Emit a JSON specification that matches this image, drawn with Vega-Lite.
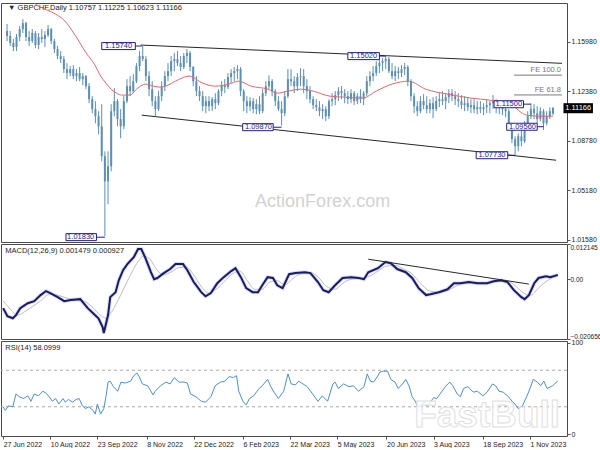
{
"$schema": "https://vega.github.io/schema/vega-lite/v6.json",
"padding": {"top": 2, "left": -6, "right": 0, "bottom": 0},
"background": "white",
"spacing": 2,
"bounds": "flush",
"config": {
 "view": {"stroke": "#4a4a4a", "strokeWidth": 1},
 "axis": {"labelFont": "Liberation Sans", "labelFontSize": 7, "labelColor": "#222222", "tickColor": "#555555", "domain": false, "grid": false, "tickSize": 3, "labelPadding": 1},
 "text": {"font": "Liberation Sans"}
},
"datasets": {
 "ohlc": [
{"d":"2022-06-26","o":1.1676,"h":1.1727,"l":1.1603,"c":1.1640},
{"d":"2022-06-29","o":1.1640,"h":1.1676,"l":1.1567,"c":1.1589},
{"d":"2022-07-02","o":1.1589,"h":1.1618,"l":1.1530,"c":1.1559},
{"d":"2022-07-05","o":1.1559,"h":1.1654,"l":1.1530,"c":1.1632},
{"d":"2022-07-08","o":1.1632,"h":1.1712,"l":1.1603,"c":1.1690},
{"d":"2022-07-11","o":1.1690,"h":1.1763,"l":1.1661,"c":1.1734},
{"d":"2022-07-14","o":1.1734,"h":1.1742,"l":1.1603,"c":1.1632},
{"d":"2022-07-17","o":1.1632,"h":1.1676,"l":1.1567,"c":1.1603},
{"d":"2022-07-20","o":1.1603,"h":1.1690,"l":1.1589,"c":1.1661},
{"d":"2022-07-23","o":1.1661,"h":1.1676,"l":1.1552,"c":1.1574},
{"d":"2022-07-26","o":1.1574,"h":1.1661,"l":1.1545,"c":1.1632},
{"d":"2022-07-29","o":1.1632,"h":1.1690,"l":1.1589,"c":1.1618},
{"d":"2022-08-01","o":1.1618,"h":1.1676,"l":1.1559,"c":1.1647},
{"d":"2022-08-04","o":1.1647,"h":1.1720,"l":1.1632,"c":1.1690},
{"d":"2022-08-07","o":1.1690,"h":1.1698,"l":1.1582,"c":1.1603},
{"d":"2022-08-10","o":1.1603,"h":1.1618,"l":1.1516,"c":1.1545},
{"d":"2022-08-13","o":1.1545,"h":1.1567,"l":1.1472,"c":1.1494},
{"d":"2022-08-16","o":1.1494,"h":1.1530,"l":1.1443,"c":1.1472},
{"d":"2022-08-19","o":1.1472,"h":1.1494,"l":1.1370,"c":1.1399},
{"d":"2022-08-22","o":1.1399,"h":1.1443,"l":1.1326,"c":1.1370},
{"d":"2022-08-25","o":1.1370,"h":1.1421,"l":1.1348,"c":1.1399},
{"d":"2022-08-28","o":1.1399,"h":1.1428,"l":1.1326,"c":1.1348},
{"d":"2022-08-31","o":1.1348,"h":1.1399,"l":1.1311,"c":1.1370},
{"d":"2022-09-03","o":1.1370,"h":1.1414,"l":1.1311,"c":1.1326},
{"d":"2022-09-06","o":1.1326,"h":1.1370,"l":1.1282,"c":1.1348},
{"d":"2022-09-09","o":1.1348,"h":1.1355,"l":1.1253,"c":1.1275},
{"d":"2022-09-12","o":1.1275,"h":1.1297,"l":1.1151,"c":1.1180},
{"d":"2022-09-15","o":1.1180,"h":1.1202,"l":1.1078,"c":1.1108},
{"d":"2022-09-18","o":1.1108,"h":1.1166,"l":1.1005,"c":1.1056},
{"d":"2022-09-21","o":1.1056,"h":1.1093,"l":1.0925,"c":1.0983},
{"d":"2022-09-24","o":1.0983,"h":1.1144,"l":1.0728,"c":1.0765},
{"d":"2022-09-27","o":1.0765,"h":1.0801,"l":1.0183,"c":1.0582},
{"d":"2022-09-30","o":1.0582,"h":1.0801,"l":1.0415,"c":1.0692},
{"d":"2022-10-03","o":1.0692,"h":1.1144,"l":1.0655,"c":1.1093},
{"d":"2022-10-06","o":1.1093,"h":1.1261,"l":1.1056,"c":1.1166},
{"d":"2022-10-09","o":1.1166,"h":1.1180,"l":1.0983,"c":1.1035},
{"d":"2022-10-12","o":1.1035,"h":1.1108,"l":1.0896,"c":1.0983},
{"d":"2022-10-15","o":1.0983,"h":1.1202,"l":1.0962,"c":1.1166},
{"d":"2022-10-18","o":1.1166,"h":1.1326,"l":1.1151,"c":1.1275},
{"d":"2022-10-21","o":1.1275,"h":1.1348,"l":1.1202,"c":1.1239},
{"d":"2022-10-24","o":1.1239,"h":1.1363,"l":1.1224,"c":1.1311},
{"d":"2022-10-27","o":1.1311,"h":1.1443,"l":1.1297,"c":1.1421},
{"d":"2022-10-30","o":1.1421,"h":1.1530,"l":1.1384,"c":1.1494},
{"d":"2022-11-02","o":1.1494,"h":1.1574,"l":1.1457,"c":1.1472},
{"d":"2022-11-05","o":1.1472,"h":1.1494,"l":1.1311,"c":1.1348},
{"d":"2022-11-08","o":1.1348,"h":1.1384,"l":1.1202,"c":1.1253},
{"d":"2022-11-11","o":1.1253,"h":1.1311,"l":1.1129,"c":1.1166},
{"d":"2022-11-14","o":1.1166,"h":1.1202,"l":1.1056,"c":1.1108},
{"d":"2022-11-17","o":1.1108,"h":1.1239,"l":1.1093,"c":1.1202},
{"d":"2022-11-20","o":1.1202,"h":1.1311,"l":1.1166,"c":1.1275},
{"d":"2022-11-23","o":1.1275,"h":1.1384,"l":1.1239,"c":1.1348},
{"d":"2022-11-26","o":1.1348,"h":1.1443,"l":1.1311,"c":1.1384},
{"d":"2022-11-29","o":1.1384,"h":1.1494,"l":1.1348,"c":1.1457},
{"d":"2022-12-02","o":1.1457,"h":1.1516,"l":1.1384,"c":1.1472},
{"d":"2022-12-05","o":1.1472,"h":1.1530,"l":1.1421,"c":1.1443},
{"d":"2022-12-08","o":1.1443,"h":1.1494,"l":1.1384,"c":1.1414},
{"d":"2022-12-11","o":1.1414,"h":1.1516,"l":1.1399,"c":1.1494},
{"d":"2022-12-14","o":1.1494,"h":1.1545,"l":1.1443,"c":1.1516},
{"d":"2022-12-17","o":1.1516,"h":1.1530,"l":1.1384,"c":1.1414},
{"d":"2022-12-20","o":1.1414,"h":1.1421,"l":1.1275,"c":1.1311},
{"d":"2022-12-23","o":1.1311,"h":1.1348,"l":1.1202,"c":1.1239},
{"d":"2022-12-26","o":1.1239,"h":1.1275,"l":1.1166,"c":1.1202},
{"d":"2022-12-29","o":1.1202,"h":1.1239,"l":1.1093,"c":1.1129},
{"d":"2023-01-01","o":1.1129,"h":1.1202,"l":1.1078,"c":1.1166},
{"d":"2023-01-04","o":1.1166,"h":1.1202,"l":1.1093,"c":1.1129},
{"d":"2023-01-07","o":1.1129,"h":1.1195,"l":1.1093,"c":1.1180},
{"d":"2023-01-10","o":1.1180,"h":1.1224,"l":1.1108,"c":1.1151},
{"d":"2023-01-13","o":1.1151,"h":1.1253,"l":1.1137,"c":1.1239},
{"d":"2023-01-16","o":1.1239,"h":1.1311,"l":1.1202,"c":1.1282},
{"d":"2023-01-19","o":1.1282,"h":1.1326,"l":1.1224,"c":1.1268},
{"d":"2023-01-22","o":1.1268,"h":1.1370,"l":1.1253,"c":1.1341},
{"d":"2023-01-25","o":1.1341,"h":1.1399,"l":1.1297,"c":1.1370},
{"d":"2023-01-28","o":1.1370,"h":1.1414,"l":1.1311,"c":1.1384},
{"d":"2023-01-31","o":1.1384,"h":1.1428,"l":1.1326,"c":1.1399},
{"d":"2023-02-03","o":1.1399,"h":1.1414,"l":1.1202,"c":1.1239},
{"d":"2023-02-06","o":1.1239,"h":1.1253,"l":1.1093,"c":1.1166},
{"d":"2023-02-09","o":1.1166,"h":1.1202,"l":1.1078,"c":1.1129},
{"d":"2023-02-12","o":1.1129,"h":1.1195,"l":1.1093,"c":1.1166},
{"d":"2023-02-15","o":1.1166,"h":1.1188,"l":1.1078,"c":1.1108},
{"d":"2023-02-18","o":1.1108,"h":1.1180,"l":1.1071,"c":1.1144},
{"d":"2023-02-21","o":1.1144,"h":1.1202,"l":1.1071,"c":1.1093},
{"d":"2023-02-24","o":1.1093,"h":1.1253,"l":1.1078,"c":1.1224},
{"d":"2023-02-27","o":1.1224,"h":1.1311,"l":1.1202,"c":1.1275},
{"d":"2023-03-02","o":1.1275,"h":1.1355,"l":1.1253,"c":1.1311},
{"d":"2023-03-05","o":1.1311,"h":1.1326,"l":1.1202,"c":1.1239},
{"d":"2023-03-08","o":1.1239,"h":1.1253,"l":1.1129,"c":1.1166},
{"d":"2023-03-11","o":1.1166,"h":1.1202,"l":1.1093,"c":1.1108},
{"d":"2023-03-14","o":1.1108,"h":1.1166,"l":1.0987,"c":1.1078},
{"d":"2023-03-17","o":1.1078,"h":1.1239,"l":1.1056,"c":1.1202},
{"d":"2023-03-20","o":1.1202,"h":1.1399,"l":1.1188,"c":1.1326},
{"d":"2023-03-23","o":1.1326,"h":1.1399,"l":1.1275,"c":1.1311},
{"d":"2023-03-26","o":1.1311,"h":1.1348,"l":1.1224,"c":1.1275},
{"d":"2023-03-29","o":1.1275,"h":1.1370,"l":1.1239,"c":1.1341},
{"d":"2023-04-01","o":1.1341,"h":1.1406,"l":1.1275,"c":1.1348},
{"d":"2023-04-04","o":1.1348,"h":1.1399,"l":1.1224,"c":1.1275},
{"d":"2023-04-07","o":1.1275,"h":1.1326,"l":1.1180,"c":1.1239},
{"d":"2023-04-10","o":1.1239,"h":1.1275,"l":1.1151,"c":1.1180},
{"d":"2023-04-13","o":1.1180,"h":1.1202,"l":1.1108,"c":1.1137},
{"d":"2023-04-16","o":1.1137,"h":1.1180,"l":1.1093,"c":1.1122},
{"d":"2023-04-19","o":1.1122,"h":1.1166,"l":1.1056,"c":1.1093},
{"d":"2023-04-22","o":1.1093,"h":1.1144,"l":1.1035,"c":1.1108},
{"d":"2023-04-25","o":1.1108,"h":1.1129,"l":1.1020,"c":1.1056},
{"d":"2023-04-28","o":1.1056,"h":1.1180,"l":1.1035,"c":1.1166},
{"d":"2023-05-01","o":1.1166,"h":1.1224,"l":1.1129,"c":1.1180},
{"d":"2023-05-04","o":1.1180,"h":1.1239,"l":1.1137,"c":1.1210},
{"d":"2023-05-07","o":1.1210,"h":1.1268,"l":1.1166,"c":1.1239},
{"d":"2023-05-10","o":1.1239,"h":1.1275,"l":1.1180,"c":1.1224},
{"d":"2023-05-13","o":1.1224,"h":1.1253,"l":1.1151,"c":1.1202},
{"d":"2023-05-16","o":1.1202,"h":1.1239,"l":1.1144,"c":1.1180},
{"d":"2023-05-19","o":1.1180,"h":1.1253,"l":1.1151,"c":1.1224},
{"d":"2023-05-22","o":1.1224,"h":1.1239,"l":1.1137,"c":1.1166},
{"d":"2023-05-25","o":1.1166,"h":1.1224,"l":1.1144,"c":1.1202},
{"d":"2023-05-28","o":1.1202,"h":1.1253,"l":1.1151,"c":1.1180},
{"d":"2023-05-31","o":1.1180,"h":1.1239,"l":1.1137,"c":1.1224},
{"d":"2023-06-03","o":1.1224,"h":1.1348,"l":1.1202,"c":1.1311},
{"d":"2023-06-06","o":1.1311,"h":1.1384,"l":1.1275,"c":1.1348},
{"d":"2023-06-09","o":1.1348,"h":1.1421,"l":1.1311,"c":1.1370},
{"d":"2023-06-12","o":1.1370,"h":1.1457,"l":1.1348,"c":1.1421},
{"d":"2023-06-15","o":1.1421,"h":1.1472,"l":1.1370,"c":1.1443},
{"d":"2023-06-18","o":1.1443,"h":1.1479,"l":1.1384,"c":1.1457},
{"d":"2023-06-21","o":1.1457,"h":1.1502,"l":1.1399,"c":1.1472},
{"d":"2023-06-24","o":1.1472,"h":1.1487,"l":1.1370,"c":1.1384},
{"d":"2023-06-27","o":1.1384,"h":1.1443,"l":1.1326,"c":1.1348},
{"d":"2023-06-30","o":1.1348,"h":1.1421,"l":1.1311,"c":1.1384},
{"d":"2023-07-03","o":1.1384,"h":1.1414,"l":1.1326,"c":1.1370},
{"d":"2023-07-06","o":1.1370,"h":1.1428,"l":1.1341,"c":1.1399},
{"d":"2023-07-09","o":1.1399,"h":1.1443,"l":1.1355,"c":1.1414},
{"d":"2023-07-12","o":1.1414,"h":1.1428,"l":1.1275,"c":1.1311},
{"d":"2023-07-15","o":1.1311,"h":1.1326,"l":1.1166,"c":1.1202},
{"d":"2023-07-18","o":1.1202,"h":1.1224,"l":1.1078,"c":1.1129},
{"d":"2023-07-21","o":1.1129,"h":1.1166,"l":1.1056,"c":1.1093},
{"d":"2023-07-24","o":1.1093,"h":1.1202,"l":1.1078,"c":1.1166},
{"d":"2023-07-27","o":1.1166,"h":1.1217,"l":1.1108,"c":1.1137},
{"d":"2023-07-30","o":1.1137,"h":1.1202,"l":1.1078,"c":1.1108},
{"d":"2023-08-02","o":1.1108,"h":1.1180,"l":1.1078,"c":1.1151},
{"d":"2023-08-05","o":1.1151,"h":1.1195,"l":1.1042,"c":1.1108},
{"d":"2023-08-08","o":1.1108,"h":1.1202,"l":1.1093,"c":1.1166},
{"d":"2023-08-11","o":1.1166,"h":1.1224,"l":1.1122,"c":1.1180},
{"d":"2023-08-14","o":1.1180,"h":1.1239,"l":1.1137,"c":1.1166},
{"d":"2023-08-17","o":1.1166,"h":1.1224,"l":1.1108,"c":1.1195},
{"d":"2023-08-20","o":1.1195,"h":1.1253,"l":1.1151,"c":1.1224},
{"d":"2023-08-23","o":1.1224,"h":1.1253,"l":1.1166,"c":1.1202},
{"d":"2023-08-26","o":1.1202,"h":1.1239,"l":1.1137,"c":1.1180},
{"d":"2023-08-29","o":1.1180,"h":1.1224,"l":1.1122,"c":1.1166},
{"d":"2023-09-01","o":1.1166,"h":1.1210,"l":1.1108,"c":1.1137},
{"d":"2023-09-04","o":1.1137,"h":1.1202,"l":1.1093,"c":1.1151},
{"d":"2023-09-07","o":1.1151,"h":1.1188,"l":1.1093,"c":1.1122},
{"d":"2023-09-10","o":1.1122,"h":1.1180,"l":1.1078,"c":1.1137},
{"d":"2023-09-13","o":1.1137,"h":1.1180,"l":1.1078,"c":1.1108},
{"d":"2023-09-16","o":1.1108,"h":1.1166,"l":1.1071,"c":1.1122},
{"d":"2023-09-19","o":1.1122,"h":1.1166,"l":1.1078,"c":1.1108},
{"d":"2023-09-22","o":1.1108,"h":1.1151,"l":1.1064,"c":1.1122},
{"d":"2023-09-25","o":1.1122,"h":1.1180,"l":1.1078,"c":1.1137},
{"d":"2023-09-28","o":1.1137,"h":1.1166,"l":1.1078,"c":1.1151},
{"d":"2023-10-01","o":1.1151,"h":1.1210,"l":1.1108,"c":1.1166},
{"d":"2023-10-04","o":1.1166,"h":1.1180,"l":1.1078,"c":1.1137},
{"d":"2023-10-07","o":1.1137,"h":1.1166,"l":1.1071,"c":1.1122},
{"d":"2023-10-10","o":1.1122,"h":1.1166,"l":1.1064,"c":1.1108},
{"d":"2023-10-13","o":1.1108,"h":1.1151,"l":1.1049,"c":1.1093},
{"d":"2023-10-16","o":1.1093,"h":1.1108,"l":1.0962,"c":1.0983},
{"d":"2023-10-19","o":1.0983,"h":1.1005,"l":1.0860,"c":1.0889},
{"d":"2023-10-22","o":1.0889,"h":1.0910,"l":1.0773,"c":1.0838},
{"d":"2023-10-25","o":1.0838,"h":1.0932,"l":1.0801,"c":1.0910},
{"d":"2023-10-28","o":1.0910,"h":1.0962,"l":1.0838,"c":1.0874},
{"d":"2023-10-31","o":1.0874,"h":1.1020,"l":1.0860,"c":1.0983},
{"d":"2023-11-03","o":1.0983,"h":1.1093,"l":1.0976,"c":1.1056},
{"d":"2023-11-06","o":1.1056,"h":1.1150,"l":1.1035,"c":1.1108},
{"d":"2023-11-09","o":1.1108,"h":1.1144,"l":1.1035,"c":1.1078},
{"d":"2023-11-12","o":1.1078,"h":1.1129,"l":1.1005,"c":1.1035},
{"d":"2023-11-15","o":1.1035,"h":1.1122,"l":1.1020,"c":1.1093},
{"d":"2023-11-18","o":1.1093,"h":1.1108,"l":1.0956,"c":1.1005},
{"d":"2023-11-21","o":1.1005,"h":1.1093,"l":1.0990,"c":1.1056},
{"d":"2023-11-24","o":1.1056,"h":1.1122,"l":1.1035,"c":1.1093},
{"d":"2023-11-27","o":1.10757,"h":1.11225,"l":1.10623,"c":1.11166}
 ],
 "ma": [
{"d":"2022-07-20","p":1.1895},{"d":"2022-07-23","p":1.1873},{"d":"2022-08-01","p":1.1836},{"d":"2022-08-11","p":1.1800},{"d":"2022-08-20","p":1.1749},{"d":"2022-08-29","p":1.1654},{"d":"2022-09-10","p":1.1508},{"d":"2022-09-17","p":1.1435},{"d":"2022-09-23","p":1.1348},{"d":"2022-09-28","p":1.1297},{"d":"2022-10-03","p":1.1253},{"d":"2022-10-08","p":1.1224},{"d":"2022-10-13","p":1.1210},{"d":"2022-10-21","p":1.1210},{"d":"2022-10-27","p":1.1253},{"d":"2022-11-05","p":1.1290},{"d":"2022-11-12","p":1.1275},{"d":"2022-11-19","p":1.1268},{"d":"2022-11-26","p":1.1282},{"d":"2022-12-03","p":1.1311},{"d":"2022-12-16","p":1.1348},{"d":"2022-12-29","p":1.1297},{"d":"2023-01-10","p":1.1275},{"d":"2023-01-23","p":1.1290},{"d":"2023-02-01","p":1.1311},{"d":"2023-02-13","p":1.1275},{"d":"2023-03-01","p":1.1253},{"d":"2023-03-10","p":1.1224},{"d":"2023-03-20","p":1.1239},{"d":"2023-04-01","p":1.1253},{"d":"2023-04-13","p":1.1239},{"d":"2023-04-29","p":1.1202},{"d":"2023-05-13","p":1.1195},{"d":"2023-05-30","p":1.1188},{"d":"2023-06-12","p":1.1239},{"d":"2023-06-27","p":1.1290},{"d":"2023-07-13","p":1.1311},{"d":"2023-07-29","p":1.1253},{"d":"2023-08-19","p":1.1217},{"d":"2023-09-10","p":1.1188},{"d":"2023-09-28","p":1.1173},{"d":"2023-10-17","p":1.1144},{"d":"2023-11-02","p":1.1064},{"d":"2023-11-14","p":1.1056},{"d":"2023-11-27","p":1.1056}
 ],
 "trend": [
{"g":"upper","d":"2022-10-31","p":1.1574},{"g":"upper","d":"2023-12-05T14:00:00Z","p":1.1441},
{"g":"lower","d":"2022-11-01","p":1.1064},{"g":"lower","d":"2023-11-30","p":1.0736}
 ],
 "labels": [
{"t":"1.15740","a":"2022-09-24","b":"2022-10-26","d":"2022-10-10","e":"2022-11-01","p":1.1567,"hi":1.1592,"lo":1.1541},
{"t":"1.01830","a":"2022-08-21","b":"2022-09-19","d":"2022-09-04","e":"2022-09-27","p":1.0176,"hi":1.0202,"lo":1.0151},
{"t":"1.09870","a":"2023-02-05","b":"2023-03-06","d":"2023-02-20","e":"2023-03-14","p":1.0976,"hi":1.1002,"lo":1.0951},
{"t":"1.15020","a":"2023-05-16","b":"2023-06-15","d":"2023-05-31","e":"2023-06-21","p":1.1494,"hi":1.1519,"lo":1.1468},
{"t":"1.11500","a":"2023-10-02","b":"2023-10-30","d":"2023-10-16","e":"2023-11-06","p":1.1144,"hi":1.1169,"lo":1.1118},
{"t":"1.09560","a":"2023-10-14","b":"2023-11-12","d":"2023-10-29","e":"2023-11-18","p":1.0980,"hi":1.1005,"lo":1.0954},
{"t":"1.07730","a":"2023-09-15","b":"2023-10-15","d":"2023-09-30","e":"2023-10-22","p":1.0772,"hi":1.0798,"lo":1.0747}
 ],
 "fe": [
{"t":"FE 100.0","d":"2023-10-21","e":"2023-12-05T14:00:00Z","p":1.1355},
{"t":"FE 61.8","d":"2023-10-21","e":"2023-12-05T14:00:00Z","p":1.1211}
 ],
 "macd": [
{"d":"2022-06-27","m":-0.0100},{"d":"2022-07-01","m":-0.0128},{"d":"2022-07-06","m":-0.0135},{"d":"2022-07-09","m":-0.0124},{"d":"2022-07-13","m":-0.0100},{"d":"2022-07-20","m":-0.0083},{"d":"2022-07-26","m":-0.0076},{"d":"2022-08-01","m":-0.0055},{"d":"2022-08-06","m":-0.0041},{"d":"2022-08-10","m":-0.0048},{"d":"2022-08-17","m":-0.0062},{"d":"2022-08-23","m":-0.0076},{"d":"2022-08-29","m":-0.0072},{"d":"2022-09-07","m":-0.0069},{"d":"2022-09-14","m":-0.0100},{"d":"2022-09-20","m":-0.0121},{"d":"2022-09-24","m":-0.0135},{"d":"2022-09-28","m":-0.0166},{"d":"2022-09-29","m":-0.0186},{"d":"2022-10-03","m":-0.0124},{"d":"2022-10-05","m":-0.0062},{"d":"2022-10-10","m":-0.0045},{"d":"2022-10-13","m":-0.0004},{"d":"2022-10-17","m":0.0031},{"d":"2022-10-21","m":0.0052},{"d":"2022-10-27","m":0.0076},{"d":"2022-10-31","m":0.0104},{"d":"2022-11-03","m":0.0104},{"d":"2022-11-07","m":0.0072},{"d":"2022-11-12","m":0.0024},{"d":"2022-11-15","m":0.0000},{"d":"2022-11-18","m":0.0004},{"d":"2022-11-24","m":0.0021},{"d":"2022-11-30","m":0.0035},{"d":"2022-12-05","m":0.0052},{"d":"2022-12-12","m":0.0052},{"d":"2022-12-16","m":0.0031},{"d":"2022-12-22","m":-0.0010},{"d":"2022-12-29","m":-0.0045},{"d":"2023-01-02","m":-0.0059},{"d":"2023-01-07","m":-0.0048},{"d":"2023-01-13","m":-0.0014},{"d":"2023-01-19","m":0.0007},{"d":"2023-01-26","m":0.0028},{"d":"2023-01-30","m":0.0038},{"d":"2023-02-04","m":0.0007},{"d":"2023-02-09","m":-0.0031},{"d":"2023-02-15","m":-0.0045},{"d":"2023-02-20","m":-0.0045},{"d":"2023-02-24","m":-0.0021},{"d":"2023-03-01","m":0.0007},{"d":"2023-03-06","m":0.0004},{"d":"2023-03-10","m":-0.0021},{"d":"2023-03-15","m":-0.0031},{"d":"2023-03-21","m":0.0017},{"d":"2023-03-27","m":0.0021},{"d":"2023-04-05","m":0.0024},{"d":"2023-04-10","m":0.0021},{"d":"2023-04-17","m":-0.0010},{"d":"2023-04-22","m":-0.0038},{"d":"2023-04-27","m":-0.0045},{"d":"2023-05-03","m":-0.0021},{"d":"2023-05-10","m":0.0004},{"d":"2023-05-18","m":0.0007},{"d":"2023-05-25","m":0.0004},{"d":"2023-05-30","m":0.0000},{"d":"2023-06-03","m":0.0024},{"d":"2023-06-12","m":0.0038},{"d":"2023-06-19","m":0.0059},{"d":"2023-06-24","m":0.0055},{"d":"2023-06-30","m":0.0035},{"d":"2023-07-08","m":0.0024},{"d":"2023-07-14","m":0.0004},{"d":"2023-07-20","m":-0.0031},{"d":"2023-07-27","m":-0.0055},{"d":"2023-07-31","m":-0.0052},{"d":"2023-08-08","m":-0.0045},{"d":"2023-08-16","m":-0.0035},{"d":"2023-08-22","m":-0.0014},{"d":"2023-08-28","m":-0.0014},{"d":"2023-09-05","m":-0.0010},{"d":"2023-09-13","m":-0.0014},{"d":"2023-09-22","m":-0.0014},{"d":"2023-09-28","m":-0.0007},{"d":"2023-10-05","m":-0.0004},{"d":"2023-10-11","m":-0.0010},{"d":"2023-10-17","m":-0.0038},{"d":"2023-10-24","m":-0.0062},{"d":"2023-10-27","m":-0.0069},{"d":"2023-10-31","m":-0.0055},{"d":"2023-11-05","m":-0.0014},{"d":"2023-11-09","m":0.0004},{"d":"2023-11-16","m":0.0010},{"d":"2023-11-20","m":0.0007},{"d":"2023-11-27","m":0.001479}
 ],
 "signal": [
{"d":"2022-06-27","s":-0.0075},{"d":"2022-07-04","s":-0.0105},{"d":"2022-07-10","s":-0.0125},{"d":"2022-07-16","s":-0.0115},{"d":"2022-07-24","s":-0.0095},{"d":"2022-08-01","s":-0.0075},{"d":"2022-08-09","s":-0.0052},{"d":"2022-08-17","s":-0.0055},{"d":"2022-08-25","s":-0.0065},{"d":"2022-09-02","s":-0.0070},{"d":"2022-09-10","s":-0.0075},{"d":"2022-09-18","s":-0.0095},{"d":"2022-09-26","s":-0.0125},{"d":"2022-10-01","s":-0.0135},{"d":"2022-10-06","s":-0.0115},{"d":"2022-10-12","s":-0.0075},{"d":"2022-10-18","s":-0.0030},{"d":"2022-10-24","s":0.0015},{"d":"2022-10-30","s":0.0055},{"d":"2022-11-05","s":0.0080},{"d":"2022-11-11","s":0.0070},{"d":"2022-11-17","s":0.0035},{"d":"2022-11-24","s":0.0015},{"d":"2022-12-01","s":0.0025},{"d":"2022-12-08","s":0.0040},{"d":"2022-12-15","s":0.0042},{"d":"2022-12-22","s":0.0015},{"d":"2022-12-29","s":-0.0025},{"d":"2023-01-05","s":-0.0048},{"d":"2023-01-12","s":-0.0035},{"d":"2023-01-19","s":-0.0010},{"d":"2023-01-27","s":0.0018},{"d":"2023-02-03","s":0.0028},{"d":"2023-02-10","s":-0.0005},{"d":"2023-02-17","s":-0.0035},{"d":"2023-02-24","s":-0.0035},{"d":"2023-03-03","s":-0.0010},{"d":"2023-03-10","s":-0.0005},{"d":"2023-03-17","s":-0.0020},{"d":"2023-03-24","s":0.0000},{"d":"2023-04-01","s":0.0018},{"d":"2023-04-10","s":0.0022},{"d":"2023-04-17","s":0.0008},{"d":"2023-04-25","s":-0.0025},{"d":"2023-05-03","s":-0.0035},{"d":"2023-05-10","s":-0.0015},{"d":"2023-05-18","s":0.0000},{"d":"2023-05-27","s":0.0004},{"d":"2023-06-04","s":0.0010},{"d":"2023-06-12","s":0.0028},{"d":"2023-06-20","s":0.0045},{"d":"2023-06-28","s":0.0048},{"d":"2023-07-06","s":0.0035},{"d":"2023-07-14","s":0.0018},{"d":"2023-07-22","s":-0.0015},{"d":"2023-07-30","s":-0.0040},{"d":"2023-08-08","s":-0.0045},{"d":"2023-08-17","s":-0.0038},{"d":"2023-08-25","s":-0.0022},{"d":"2023-09-05","s":-0.0013},{"d":"2023-09-15","s":-0.0012},{"d":"2023-09-25","s":-0.0012},{"d":"2023-10-05","s":-0.0006},{"d":"2023-10-12","s":-0.0008},{"d":"2023-10-19","s":-0.0025},{"d":"2023-10-26","s":-0.0048},{"d":"2023-11-02","s":-0.0055},{"d":"2023-11-09","s":-0.0030},{"d":"2023-11-16","s":-0.0008},{"d":"2023-11-22","s":0.0005},{"d":"2023-11-27","s":0.000927}
 ],
 "macdtrend": [{"d":"2023-06-03","m":0.0069},{"d":"2023-10-31","m":-0.0017}],
 "rsi": [
{"d":"2022-06-27","v":30},{"d":"2022-06-29","v":26},{"d":"2022-07-02","v":31},{"d":"2022-07-06","v":30},{"d":"2022-07-09","v":44},{"d":"2022-07-12","v":41},{"d":"2022-07-16","v":39},{"d":"2022-07-20","v":42},{"d":"2022-07-23","v":36},{"d":"2022-07-26","v":44},{"d":"2022-07-30","v":42},{"d":"2022-08-03","v":47},{"d":"2022-08-06","v":45},{"d":"2022-08-09","v":41},{"d":"2022-08-12","v":36},{"d":"2022-08-15","v":39},{"d":"2022-08-18","v":33},{"d":"2022-08-22","v":39},{"d":"2022-08-24","v":35},{"d":"2022-08-27","v":38},{"d":"2022-08-31","v":35},{"d":"2022-09-03","v":38},{"d":"2022-09-06","v":39},{"d":"2022-09-09","v":31},{"d":"2022-09-12","v":28},{"d":"2022-09-15","v":30},{"d":"2022-09-19","v":26},{"d":"2022-09-21","v":22},{"d":"2022-09-23","v":33},{"d":"2022-09-26","v":22},{"d":"2022-09-29","v":28},{"d":"2022-10-01","v":41},{"d":"2022-10-03","v":57},{"d":"2022-10-05","v":58},{"d":"2022-10-08","v":52},{"d":"2022-10-12","v":47},{"d":"2022-10-15","v":57},{"d":"2022-10-19","v":56},{"d":"2022-10-24","v":58},{"d":"2022-10-27","v":64},{"d":"2022-10-30","v":67},{"d":"2022-11-01","v":63},{"d":"2022-11-04","v":55},{"d":"2022-11-09","v":53},{"d":"2022-11-14","v":43},{"d":"2022-11-16","v":47},{"d":"2022-11-21","v":53},{"d":"2022-11-26","v":57},{"d":"2022-11-30","v":55},{"d":"2022-12-04","v":62},{"d":"2022-12-08","v":57},{"d":"2022-12-13","v":57},{"d":"2022-12-16","v":56},{"d":"2022-12-19","v":44},{"d":"2022-12-24","v":41},{"d":"2022-12-29","v":36},{"d":"2023-01-02","v":35},{"d":"2023-01-07","v":41},{"d":"2023-01-11","v":53},{"d":"2023-01-16","v":57},{"d":"2023-01-20","v":58},{"d":"2023-01-24","v":63},{"d":"2023-01-28","v":62},{"d":"2023-01-31","v":64},{"d":"2023-02-02","v":47},{"d":"2023-02-06","v":36},{"d":"2023-02-09","v":32},{"d":"2023-02-12","v":39},{"d":"2023-02-16","v":42},{"d":"2023-02-21","v":50},{"d":"2023-02-24","v":53},{"d":"2023-03-01","v":60},{"d":"2023-03-04","v":52},{"d":"2023-03-07","v":46},{"d":"2023-03-11","v":39},{"d":"2023-03-16","v":47},{"d":"2023-03-20","v":66},{"d":"2023-03-23","v":55},{"d":"2023-03-27","v":54},{"d":"2023-03-30","v":58},{"d":"2023-04-03","v":55},{"d":"2023-04-07","v":52},{"d":"2023-04-12","v":44},{"d":"2023-04-17","v":36},{"d":"2023-04-21","v":42},{"d":"2023-04-26","v":36},{"d":"2023-05-01","v":55},{"d":"2023-05-03","v":57},{"d":"2023-05-06","v":50},{"d":"2023-05-11","v":55},{"d":"2023-05-16","v":52},{"d":"2023-05-20","v":53},{"d":"2023-05-25","v":47},{"d":"2023-05-30","v":52},{"d":"2023-06-02","v":66},{"d":"2023-06-05","v":58},{"d":"2023-06-08","v":57},{"d":"2023-06-12","v":64},{"d":"2023-06-14","v":68},{"d":"2023-06-17","v":69},{"d":"2023-06-21","v":69},{"d":"2023-06-24","v":60},{"d":"2023-06-28","v":57},{"d":"2023-07-01","v":50},{"d":"2023-07-05","v":55},{"d":"2023-07-08","v":60},{"d":"2023-07-11","v":53},{"d":"2023-07-14","v":41},{"d":"2023-07-17","v":36},{"d":"2023-07-19","v":30},{"d":"2023-07-22","v":31},{"d":"2023-07-25","v":35},{"d":"2023-07-28","v":31},{"d":"2023-07-31","v":35},{"d":"2023-08-03","v":40},{"d":"2023-08-06","v":39},{"d":"2023-08-09","v":44},{"d":"2023-08-14","v":52},{"d":"2023-08-18","v":57},{"d":"2023-08-21","v":53},{"d":"2023-08-25","v":44},{"d":"2023-08-28","v":41},{"d":"2023-08-31","v":50},{"d":"2023-09-04","v":52},{"d":"2023-09-09","v":46},{"d":"2023-09-13","v":47},{"d":"2023-09-18","v":42},{"d":"2023-09-22","v":46},{"d":"2023-09-27","v":55},{"d":"2023-09-30","v":53},{"d":"2023-10-03","v":47},{"d":"2023-10-07","v":46},{"d":"2023-10-12","v":41},{"d":"2023-10-16","v":35},{"d":"2023-10-18","v":33},{"d":"2023-10-21","v":28},{"d":"2023-10-25","v":31},{"d":"2023-10-30","v":44},{"d":"2023-11-02","v":53},{"d":"2023-11-04","v":60},{"d":"2023-11-08","v":57},{"d":"2023-11-11","v":53},{"d":"2023-11-14","v":58},{"d":"2023-11-17","v":50},{"d":"2023-11-22","v":53},{"d":"2023-11-27","v":58.0999}
 ]
},
"vconcat": [
 {
  "width": 566, "height": 239,
  "layer": [
   {"mark": {"type": "rule", "color": "#c8c8c8", "strokeWidth": 1},
    "encoding": {"y": {"datum": 1.11166, "type": "quantitative", "scale": {"domain": [1.0141, 1.188], "nice": false, "zero": false},
      "axis": {"orient": "right", "title": null, "values": [1.0158, 1.0338, 1.0518, 1.0698, 1.0878, 1.1058, 1.1238, 1.1418, 1.1598, 1.1778], "format": ".5f"}}}},
   {"data": {"values": [{"t": "ActionForex.com", "d": "2023-04-22", "p": 1.043}]},
    "mark": {"type": "text", "fontSize": 18, "color": "#d2d2d2", "align": "center", "baseline": "middle", "font": "Liberation Sans"},
    "encoding": {"x": {"field": "d", "type": "temporal", "scale": {"type": "utc", "domain": [{"year": 2022, "month": 6, "date": 25, "utc": true}, {"year": 2023, "month": 12, "date": 5, "hours": 14, "utc": true}]}, "axis": null},
      "y": {"field": "p", "type": "quantitative", "scale": {"domain": [1.0141, 1.188], "nice": false, "zero": false}}, "text": {"field": "t"}}},
   {"data": {"values": [{"t": "▼ GBPCHF,Daily  1.10757 1.11225 1.10623 1.11166", "d": "2022-06-27", "p": 1.1844}]},
    "mark": {"type": "text", "fontSize": 7.5, "color": "#222222", "align": "left", "baseline": "middle", "font": "Liberation Sans"},
    "encoding": {"x": {"field": "d", "type": "temporal", "scale": {"type": "utc", "domain": [{"year": 2022, "month": 6, "date": 25, "utc": true}, {"year": 2023, "month": 12, "date": 5, "hours": 14, "utc": true}]}, "axis": null},
      "y": {"field": "p", "type": "quantitative", "scale": {"domain": [1.0141, 1.188], "nice": false, "zero": false}}, "text": {"field": "t"}}},
   {"data": {"name": "trend"},
    "mark": {"type": "line", "color": "#262626", "strokeWidth": 1},
    "encoding": {"x": {"field": "d", "type": "temporal", "scale": {"type": "utc", "domain": [{"year": 2022, "month": 6, "date": 25, "utc": true}, {"year": 2023, "month": 12, "date": 5, "hours": 14, "utc": true}]}, "axis": null},
      "y": {"field": "p", "type": "quantitative", "scale": {"domain": [1.0141, 1.188], "nice": false, "zero": false}}, "detail": {"field": "g"}}},
   {"data": {"name": "fe"},
    "mark": {"type": "rule", "color": "#7a7a7a", "strokeWidth": 1},
    "encoding": {"x": {"field": "d", "type": "temporal", "scale": {"type": "utc", "domain": [{"year": 2022, "month": 6, "date": 25, "utc": true}, {"year": 2023, "month": 12, "date": 5, "hours": 14, "utc": true}]}, "axis": null},
      "x2": {"field": "e"}, "y": {"field": "p", "type": "quantitative", "scale": {"domain": [1.0141, 1.188], "nice": false, "zero": false}}}},
   {"data": {"name": "fe"},
    "mark": {"type": "text", "fontSize": 7.5, "color": "#777777", "align": "right", "baseline": "bottom", "dy": -1, "dx": -1},
    "encoding": {"x": {"field": "e", "type": "temporal", "scale": {"type": "utc", "domain": [{"year": 2022, "month": 6, "date": 25, "utc": true}, {"year": 2023, "month": 12, "date": 5, "hours": 14, "utc": true}]}, "axis": null},
      "y": {"field": "p", "type": "quantitative", "scale": {"domain": [1.0141, 1.188], "nice": false, "zero": false}}, "text": {"field": "t"}}},
   {"data": {"name": "ohlc"},
    "mark": {"type": "rule", "color": "#5d8fb3", "strokeWidth": 1},
    "encoding": {"x": {"field": "d", "type": "temporal", "scale": {"type": "utc", "domain": [{"year": 2022, "month": 6, "date": 25, "utc": true}, {"year": 2023, "month": 12, "date": 5, "hours": 14, "utc": true}]}, "axis": null},
      "y": {"field": "l", "type": "quantitative", "scale": {"domain": [1.0141, 1.188], "nice": false, "zero": false}}, "y2": {"field": "h"}}},
   {"data": {"name": "ohlc"},
    "mark": {"type": "bar", "color": "#5d8fb3", "size": 2},
    "encoding": {"x": {"field": "d", "type": "temporal", "scale": {"type": "utc", "domain": [{"year": 2022, "month": 6, "date": 25, "utc": true}, {"year": 2023, "month": 12, "date": 5, "hours": 14, "utc": true}]}, "axis": null},
      "y": {"field": "o", "type": "quantitative", "scale": {"domain": [1.0141, 1.188], "nice": false, "zero": false}}, "y2": {"field": "c"}}},
   {"data": {"name": "ma"},
    "mark": {"type": "line", "color": "#e06a6a", "strokeWidth": 1, "clip": true, "interpolate": "monotone"},
    "encoding": {"x": {"field": "d", "type": "temporal", "scale": {"type": "utc", "domain": [{"year": 2022, "month": 6, "date": 25, "utc": true}, {"year": 2023, "month": 12, "date": 5, "hours": 14, "utc": true}]}, "axis": null},
      "y": {"field": "p", "type": "quantitative", "scale": {"domain": [1.0141, 1.188], "nice": false, "zero": false}}}},
   {"data": {"name": "labels"},
    "mark": {"type": "rule", "color": "#1f1f86", "strokeWidth": 1},
    "encoding": {"x": {"field": "b", "type": "temporal", "scale": {"type": "utc", "domain": [{"year": 2022, "month": 6, "date": 25, "utc": true}, {"year": 2023, "month": 12, "date": 5, "hours": 14, "utc": true}]}, "axis": null},
      "x2": {"field": "e"}, "y": {"field": "p", "type": "quantitative", "scale": {"domain": [1.0141, 1.188], "nice": false, "zero": false}}}},
   {"data": {"name": "labels"},
    "mark": {"type": "rect", "fill": "#ffffff", "stroke": "#1f1f86", "strokeWidth": 1},
    "encoding": {"x": {"field": "a", "type": "temporal", "scale": {"type": "utc", "domain": [{"year": 2022, "month": 6, "date": 25, "utc": true}, {"year": 2023, "month": 12, "date": 5, "hours": 14, "utc": true}]}, "axis": null},
      "x2": {"field": "b"}, "y": {"field": "hi", "type": "quantitative", "scale": {"domain": [1.0141, 1.188], "nice": false, "zero": false}}, "y2": {"field": "lo"}}},
   {"data": {"name": "labels"},
    "mark": {"type": "text", "fontSize": 7.5, "color": "#1f1f86", "align": "center", "baseline": "middle"},
    "encoding": {"x": {"field": "d", "type": "temporal", "scale": {"type": "utc", "domain": [{"year": 2022, "month": 6, "date": 25, "utc": true}, {"year": 2023, "month": 12, "date": 5, "hours": 14, "utc": true}]}, "axis": null},
      "y": {"field": "p", "type": "quantitative", "scale": {"domain": [1.0141, 1.188], "nice": false, "zero": false}}, "text": {"field": "t"}}},
   {"data": {"values": [{"t": "1.11166", "a": "2023-12-07", "b": "2024-01-04", "d": "2023-12-21", "p": 1.11166, "hi": 1.1151, "lo": 1.1078}]},
    "layer": [
     {"mark": {"type": "rect", "fill": "#000000"},
      "encoding": {"x": {"field": "a", "type": "temporal", "scale": {"type": "utc", "domain": [{"year": 2022, "month": 6, "date": 25, "utc": true}, {"year": 2023, "month": 12, "date": 5, "hours": 14, "utc": true}]}, "axis": null},
        "x2": {"field": "b"}, "y": {"field": "hi", "type": "quantitative", "scale": {"domain": [1.0141, 1.188], "nice": false, "zero": false}}, "y2": {"field": "lo"}}},
     {"mark": {"type": "text", "fontSize": 7.5, "color": "#ffffff", "align": "center", "baseline": "middle"},
      "encoding": {"x": {"field": "d", "type": "temporal", "scale": {"type": "utc", "domain": [{"year": 2022, "month": 6, "date": 25, "utc": true}, {"year": 2023, "month": 12, "date": 5, "hours": 14, "utc": true}]}, "axis": null},
        "y": {"field": "p", "type": "quantitative", "scale": {"domain": [1.0141, 1.188], "nice": false, "zero": false}}, "text": {"field": "t"}}}
    ]}
  ]
 },
 {
  "width": 566, "height": 95,
  "layer": [
   {"mark": {"type": "rule", "color": "#a8a8a8", "strokeWidth": 1, "strokeDash": [3, 3]},
    "encoding": {"y": {"datum": 0, "type": "quantitative", "scale": {"domain": [-0.020656, 0.012145], "nice": false, "zero": false},
      "axis": {"orient": "right", "title": null, "values": [-0.020656, 0, 0.012145], "labelExpr": "datum.value == 0 ? '0.00' : format(datum.value, '.6f')", "labelFlush": true, "labelFontSize": 6.5, "labelPadding": 0}}}},
   {"data": {"values": [{"t": "MACD(12,26,9) 0.001479 0.000927", "d": "2022-06-29", "m": 0.0097}]},
    "mark": {"type": "text", "fontSize": 7.5, "color": "#222222", "align": "left", "baseline": "middle", "font": "Liberation Sans"},
    "encoding": {"x": {"field": "d", "type": "temporal", "scale": {"type": "utc", "domain": [{"year": 2022, "month": 6, "date": 25, "utc": true}, {"year": 2023, "month": 12, "date": 5, "hours": 14, "utc": true}]}, "axis": null},
      "y": {"field": "m", "type": "quantitative", "scale": {"domain": [-0.020656, 0.012145], "nice": false, "zero": false}}, "text": {"field": "t"}}},
   {"data": {"name": "signal"},
    "mark": {"type": "line", "color": "#bdbdbd", "strokeWidth": 1, "interpolate": "monotone"},
    "encoding": {"x": {"field": "d", "type": "temporal", "scale": {"type": "utc", "domain": [{"year": 2022, "month": 6, "date": 25, "utc": true}, {"year": 2023, "month": 12, "date": 5, "hours": 14, "utc": true}]}, "axis": null},
      "y": {"field": "s", "type": "quantitative", "scale": {"domain": [-0.020656, 0.012145], "nice": false, "zero": false}}}},
   {"data": {"name": "macd"},
    "mark": {"type": "line", "color": "#b4bdea", "strokeWidth": 4, "opacity": 0.5},
    "encoding": {"x": {"field": "d", "type": "temporal", "scale": {"type": "utc", "domain": [{"year": 2022, "month": 6, "date": 25, "utc": true}, {"year": 2023, "month": 12, "date": 5, "hours": 14, "utc": true}]}, "axis": null},
      "y": {"field": "m", "type": "quantitative", "scale": {"domain": [-0.020656, 0.012145], "nice": false, "zero": false}}}},
   {"data": {"name": "macd"},
    "mark": {"type": "line", "color": "#1b1b64", "strokeWidth": 2},
    "encoding": {"x": {"field": "d", "type": "temporal", "scale": {"type": "utc", "domain": [{"year": 2022, "month": 6, "date": 25, "utc": true}, {"year": 2023, "month": 12, "date": 5, "hours": 14, "utc": true}]}, "axis": null},
      "y": {"field": "m", "type": "quantitative", "scale": {"domain": [-0.020656, 0.012145], "nice": false, "zero": false}}}},
   {"data": {"name": "macdtrend"},
    "mark": {"type": "line", "color": "#2a2a2a", "strokeWidth": 1},
    "encoding": {"x": {"field": "d", "type": "temporal", "scale": {"type": "utc", "domain": [{"year": 2022, "month": 6, "date": 25, "utc": true}, {"year": 2023, "month": 12, "date": 5, "hours": 14, "utc": true}]}, "axis": null},
      "y": {"field": "m", "type": "quantitative", "scale": {"domain": [-0.020656, 0.012145], "nice": false, "zero": false}}}}
  ]
 },
 {
  "width": 566, "height": 95,
  "layer": [
   {"data": {"values": [{"v": 30}, {"v": 70}]},
    "mark": {"type": "rule", "color": "#a8a8a8", "strokeWidth": 1, "strokeDash": [3, 3]},
    "encoding": {"y": {"field": "v", "type": "quantitative", "scale": {"domain": [-2, 102], "nice": false, "zero": false},
      "axis": {"orient": "right", "title": null, "values": [0, 30, 70, 100]}}}},
   {"data": {"values": [{"t": "RSI(14) 58.0999", "d": "2022-06-29", "v": 94.3}]},
    "mark": {"type": "text", "fontSize": 7.5, "color": "#222222", "align": "left", "baseline": "middle", "font": "Liberation Sans"},
    "encoding": {"x": {"field": "d", "type": "temporal", "scale": {"type": "utc", "domain": [{"year": 2022, "month": 6, "date": 25, "utc": true}, {"year": 2023, "month": 12, "date": 5, "hours": 14, "utc": true}]}},
      "y": {"field": "v", "type": "quantitative", "scale": {"domain": [-2, 102], "nice": false, "zero": false}}, "text": {"field": "t"}}},
   {"data": {"name": "rsi"},
    "mark": {"type": "line", "color": "#4f8fc6", "strokeWidth": 1},
    "encoding": {"x": {"field": "d", "type": "temporal", "scale": {"type": "utc", "domain": [{"year": 2022, "month": 6, "date": 25, "utc": true}, {"year": 2023, "month": 12, "date": 5, "hours": 14, "utc": true}]},
       "axis": {"orient": "bottom", "title": null, "format": "%-d %b %Y", "labelAlign": "left", "labelFontSize": 7, "labelOverlap": false, "labelFlush": false, "labelBound": false, "labelPadding": 1,
        "values": [{"year": 2022, "month": 6, "date": 27, "utc": true}, {"year": 2022, "month": 8, "date": 10, "utc": true}, {"year": 2022, "month": 9, "date": 23, "utc": true}, {"year": 2022, "month": 11, "date": 8, "utc": true}, {"year": 2022, "month": 12, "date": 22, "utc": true}, {"year": 2023, "month": 2, "date": 6, "utc": true}, {"year": 2023, "month": 3, "date": 22, "utc": true}, {"year": 2023, "month": 5, "date": 5, "utc": true}, {"year": 2023, "month": 6, "date": 20, "utc": true}, {"year": 2023, "month": 8, "date": 3, "utc": true}, {"year": 2023, "month": 9, "date": 18, "utc": true}, {"year": 2023, "month": 11, "date": 1, "utc": true}]}},
      "y": {"field": "v", "type": "quantitative", "scale": {"domain": [-2, 102], "nice": false, "zero": false}}}},
   {"data": {"values": [{"t": "FastBull", "d": "2023-09-22", "v": 20}]},
    "mark": {"type": "text", "fontSize": 37, "fontWeight": "bold", "font": "Liberation Sans", "fill": "#ffffff", "fillOpacity": 0.8, "stroke": "#dedede", "strokeWidth": 1, "align": "center", "baseline": "middle"},
    "encoding": {"x": {"field": "d", "type": "temporal", "scale": {"type": "utc", "domain": [{"year": 2022, "month": 6, "date": 25, "utc": true}, {"year": 2023, "month": 12, "date": 5, "hours": 14, "utc": true}]}},
      "y": {"field": "v", "type": "quantitative", "scale": {"domain": [-2, 102], "nice": false, "zero": false}}, "text": {"field": "t"}}}
  ]
 }
]
}
